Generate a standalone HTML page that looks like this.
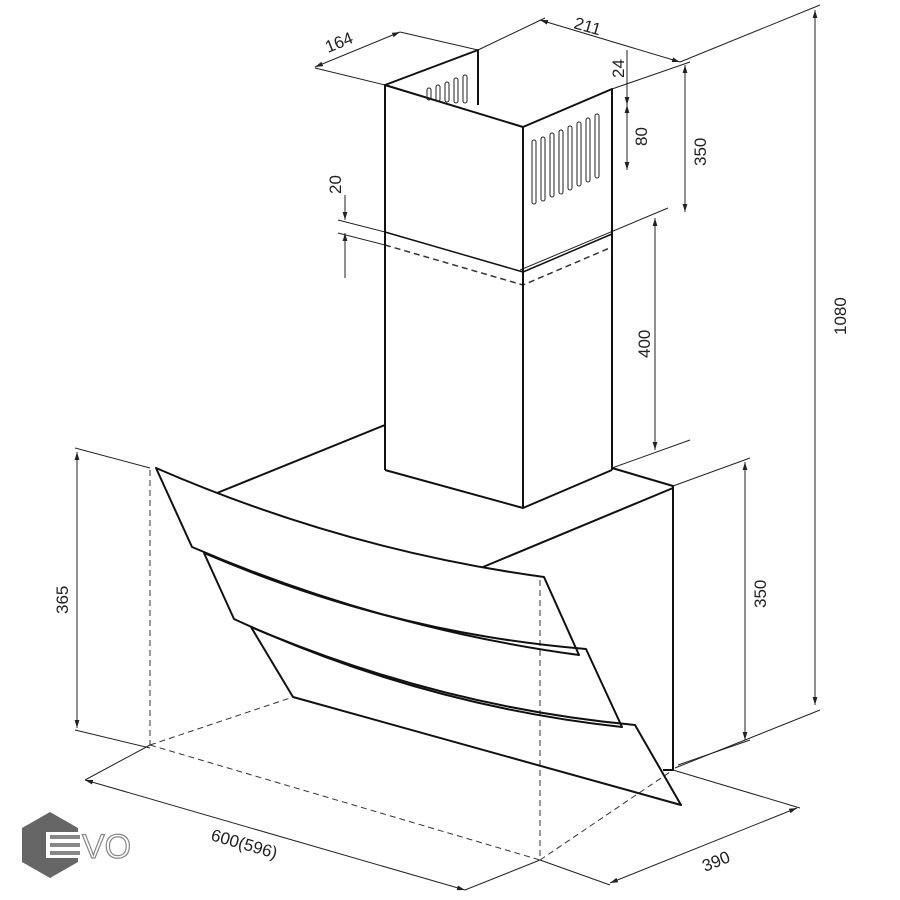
<!DOCTYPE html>
<html><head><meta charset="utf-8"><style>
html,body{margin:0;padding:0;background:#fff}
svg{display:block}
text{font-family:"Liberation Sans",sans-serif;font-size:17px;fill:#222}
</style></head><body>
<svg width="900" height="900" viewBox="0 0 900 900">
<defs><marker id="a" viewBox="0 0 10 10" refX="10" refY="5" markerWidth="8" markerHeight="8" orient="auto-start-reverse"><path d="M0,2 L10,5 L0,8 z" fill="#222"/></marker></defs>
<g stroke="#222" fill="none" stroke-width="1">
<line x1="75" y1="448" x2="150" y2="468"/><line x1="75" y1="730" x2="150" y2="748"/>
<line x1="673" y1="486" x2="750" y2="458"/><line x1="678" y1="765" x2="750" y2="740"/>
<line x1="612" y1="468" x2="690" y2="440"/>
<line x1="612" y1="89" x2="690" y2="62"/><line x1="520" y1="270" x2="668" y2="208"/>
<line x1="680" y1="62" x2="820" y2="5"/><line x1="675" y1="768" x2="820" y2="710"/>
<line x1="400" y1="32" x2="478" y2="50"/><line x1="315" y1="68" x2="385" y2="85"/>
<line x1="478" y1="50" x2="545" y2="18"/>
<line x1="85" y1="780" x2="150" y2="745"/><line x1="465" y1="890" x2="540" y2="860"/>
<line x1="540" y1="860" x2="610" y2="885"/><line x1="673" y1="770" x2="800" y2="808"/>
<line x1="338" y1="220" x2="385" y2="232"/><line x1="338" y1="233" x2="385" y2="245"/>
<line x1="77" y1="452" x2="77" y2="728" marker-start="url(#a)" marker-end="url(#a)"/>
<line x1="745" y1="462" x2="745" y2="740" marker-start="url(#a)" marker-end="url(#a)"/>
<line x1="815" y1="10" x2="815" y2="705" marker-start="url(#a)" marker-end="url(#a)"/>
<line x1="685" y1="65" x2="685" y2="212" marker-start="url(#a)" marker-end="url(#a)"/>
<line x1="655" y1="218" x2="655" y2="450" marker-start="url(#a)" marker-end="url(#a)"/>
<line x1="627" y1="105" x2="627" y2="170" marker-start="url(#a)" marker-end="url(#a)"/>
<line x1="627" y1="50" x2="627" y2="105" marker-end="url(#a)"/>
<line x1="345" y1="195" x2="345" y2="220" marker-end="url(#a)"/>
<line x1="345" y1="278" x2="345" y2="233" marker-end="url(#a)"/>
<line x1="315" y1="67" x2="400" y2="32" marker-start="url(#a)" marker-end="url(#a)"/>
<line x1="540" y1="20" x2="680" y2="62" marker-start="url(#a)" marker-end="url(#a)"/>
<line x1="85" y1="780" x2="465" y2="890" marker-start="url(#a)" marker-end="url(#a)"/>
<line x1="610" y1="883" x2="797" y2="808" marker-start="url(#a)" marker-end="url(#a)"/>
</g>
<g stroke="#333" fill="none" stroke-width="1" stroke-dasharray="6,4">
<line x1="150" y1="470" x2="150" y2="745"/><line x1="540" y1="580" x2="540" y2="860"/>
<line x1="150" y1="745" x2="540" y2="860"/><line x1="150" y1="745" x2="293" y2="697"/>
<line x1="540" y1="860" x2="673" y2="770"/>
<polyline points="385,245 523,285 612,247" stroke-width="1.5"/>
</g>
<g stroke="#111" fill="none" stroke-width="2" stroke-linejoin="round">
<polyline points="385,470 385,85 523,127 612,89 612,470"/>
<line x1="523" y1="127" x2="523" y2="508"/>
<polyline points="385,470 523,508 612,470"/>
<polyline points="385,85 478,50 478,105"/>
<polyline points="385,232 523,272 612,234" stroke-width="1.5"/>
<polyline points="385,425 217,493"/>
<polyline points="612,468 673,486 673,770 663,770"/>
<line x1="483" y1="567" x2="673" y2="488"/>
<path d="M156,468 Q345,550 544,577 L579,655 Q380,628 192,547 Z"/>
<path d="M204,553 Q390,633 586,649 L622,727 Q420,705 234,619 Z"/>
<path d="M251,627 Q440,707 635,725 L681,805 L293,697 Z"/>
</g>
<g stroke="#222" stroke-width="1" fill="none">
<rect x="532" y="140" width="4" height="64" rx="2"/>
<rect x="541" y="137" width="4" height="64" rx="2"/><rect x="550" y="133" width="4" height="64" rx="2"/>
<rect x="559" y="130" width="4" height="64" rx="2"/><rect x="568" y="126" width="4" height="64" rx="2"/>
<rect x="577" y="122" width="4" height="64" rx="2"/><rect x="586" y="118" width="4" height="64" rx="2"/>
<rect x="595" y="114" width="4" height="64" rx="2"/>
<rect x="427" y="88" width="4" height="12" rx="2"/><rect x="436" y="85" width="4" height="16" rx="2"/>
<rect x="445" y="82" width="4" height="20" rx="2"/><rect x="454" y="78" width="4" height="25" rx="2"/>
<rect x="463" y="75" width="4" height="28" rx="2"/>
</g>
<text transform="translate(68,614) rotate(-90)">365</text>
<text transform="translate(766,608) rotate(-90)">350</text>
<text transform="translate(846,335) rotate(-90)">1080</text>
<text transform="translate(706,166) rotate(-90)">350</text>
<text transform="translate(650,358) rotate(-90)">400</text>
<text transform="translate(647,146) rotate(-90)">80</text>
<text transform="translate(624,78) rotate(-90)">24</text>
<text transform="translate(341,194) rotate(-90)">20</text>
<text transform="translate(328,53) rotate(-22)">164</text>
<text transform="translate(573,28) rotate(16)">211</text>
<text transform="translate(210,840) rotate(16)">600(596)</text>
<text transform="translate(705,872) rotate(-22)">390</text>
<polygon points="50,812 78,828 78,862 50,878 22,862 22,828" fill="#666"/>
<rect x="46" y="832" width="34" height="26" fill="#fff"/>
<rect x="50" y="835" width="30" height="4" fill="#888"/><rect x="50" y="843" width="30" height="4" fill="#888"/><rect x="50" y="851" width="30" height="4" fill="#888"/>
<text x="82" y="858" style="font-size:34px;fill:#fff;stroke:#888;stroke-width:1.2">VO</text>
</svg>
</body></html>
